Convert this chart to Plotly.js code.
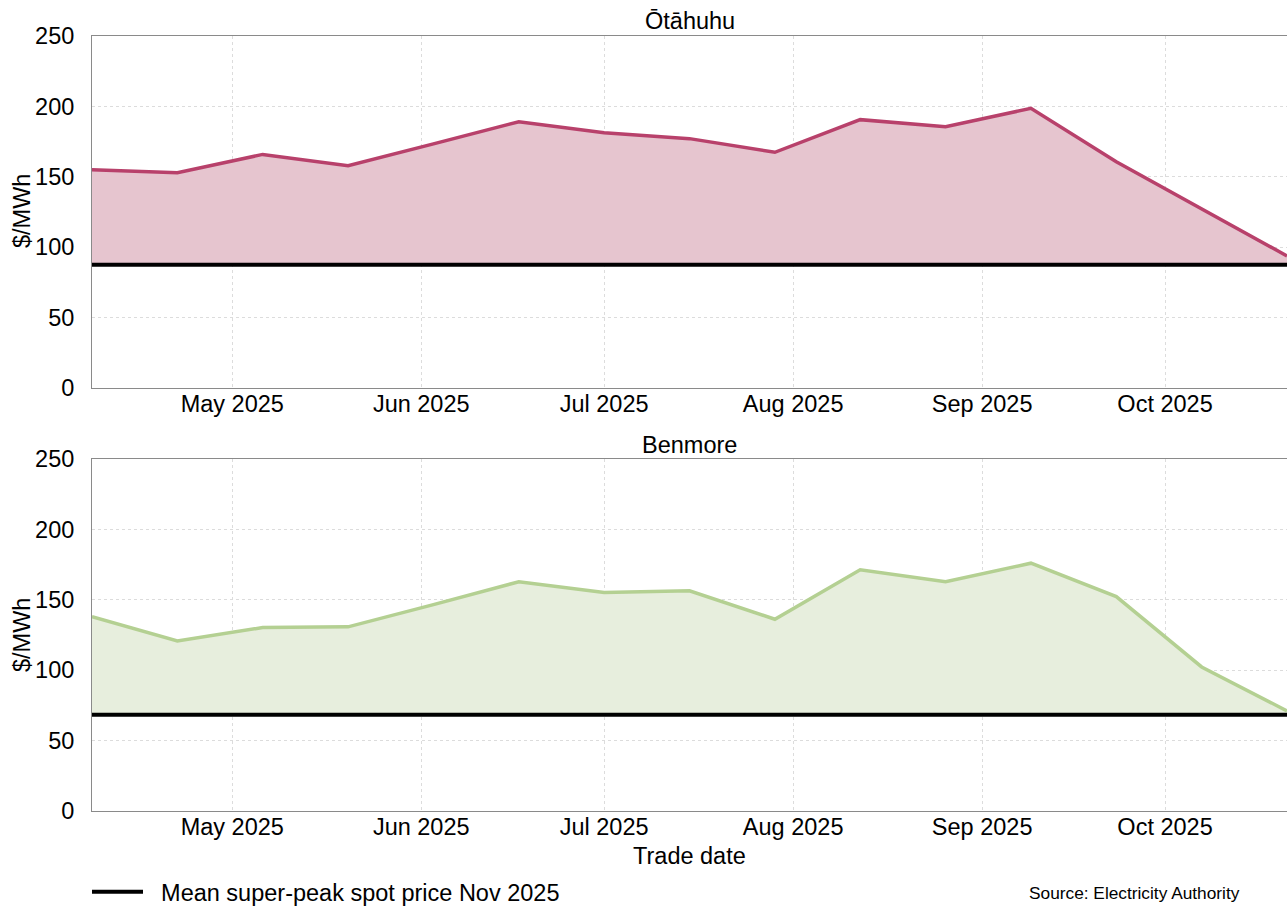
<!DOCTYPE html>
<html>
<head>
<meta charset="utf-8">
<script src="https://cdn.plot.ly/plotly-3.0.1.min.js"></script>
<style>
html,body{margin:0;padding:0;background:#fff}
#chart{width:1287px;height:906px}
</style>
</head>
<body>
<div id="chart"></div>
<script>
// ────── data ──────
const tradeDates=['2025-04-08','2025-04-22','2025-05-06','2025-05-20','2025-06-03','2025-06-17','2025-07-01','2025-07-15','2025-07-29','2025-08-12','2025-08-26','2025-09-09','2025-09-23','2025-10-07','2025-10-21'];
const otahuhuPrice=[155.0,152.9,165.9,157.9,173.4,189.1,181.3,177.1,167.4,190.6,185.6,198.6,160.7,127.4,93.8];
const benmorePrice=[138.1,120.8,130.3,130.8,146.6,162.8,155.2,156.4,136.2,171.3,162.8,176.0,152.3,102.3,71.1];
const otahuhuMeanNov=87.6;
const benmoreMeanNov=68.3;
const meanLabel='Mean super-peak spot price Nov 2025';

// ────── styles ──────
const FONT='"Liberation Sans", Arial, Helvetica, sans-serif';
const FS=23.5;
const OTA_LINE='#b8416b', OTA_FILL='#e6c5cf';
const BEN_LINE='#b4d092', BEN_FILL='#e7eedd';
const txt=(size)=>({family:FONT,size:size||FS,color:'#000'});

const ends=[tradeDates[0],tradeDates[tradeDates.length-1]];
function meanDs(v,xa,ya,show){
  return {type:'scatter',mode:'lines',x:ends,y:[v,v],xaxis:xa,yaxis:ya,
    name:'\u00a0\u00a0'+meanLabel,showlegend:show,line:{color:'#000',width:4},hoverinfo:'skip'};
}
function priceDs(name,vals,col,fillCol,xa,ya){
  return {type:'scatter',mode:'lines',x:tradeDates,y:vals,xaxis:xa,yaxis:ya,
    name,showlegend:false,fill:'tonexty',fillcolor:fillCol,line:{color:col,width:3.5}};
}

const data=[
  meanDs(otahuhuMeanNov,'x','y',true),
  priceDs('Ōtāhuhu',otahuhuPrice,OTA_LINE,OTA_FILL,'x','y'),
  meanDs(benmoreMeanNov,'x2','y2',false),
  priceDs('Benmore',benmorePrice,BEN_LINE,BEN_FILL,'x2','y2')
];

const xCommon={
  type:'date',range:ends,dtick:'M1',tick0:'2025-05-01',tickformat:'%b %Y',
  showgrid:true,gridcolor:'#dcdcdc',griddash:'dot',gridwidth:1,
  showline:true,linecolor:'#8a8a8a',linewidth:1,mirror:true,
  ticks:'',ticklabelstandoff:-5,tickfont:txt(),zeroline:false,automargin:false
};
const yCommon={
  range:[0,250],dtick:50,tick0:0,
  showgrid:true,gridcolor:'#dcdcdc',griddash:'dot',gridwidth:1,
  showline:true,linecolor:'#8a8a8a',linewidth:1,mirror:true,
  ticks:'',ticklabelstandoff:12,tickfont:txt(),zeroline:false,automargin:false
};

// pixel helpers (plot area: t=36, paper height 775)
const PH=775;
const py=(pix)=>(811-pix)/PH;
const px=(pix)=>(pix-92)/1195;

const layout={
  width:1287,height:906,
  margin:{l:92,r:0,t:36,b:95},
  paper_bgcolor:'#fff',plot_bgcolor:'#fff',
  font:txt(),
  showlegend:true,
  legend:{orientation:'h',x:-5/1195,xanchor:'left',yref:'container',y:1-870/906,yanchor:'top',
    font:txt(),itemwidth:51,bgcolor:'rgba(0,0,0,0)'},
  xaxis:{...xCommon,anchor:'y',domain:[0,1]},
  yaxis:{...yCommon,anchor:'x',domain:[py(388),1]},
  xaxis2:{...xCommon,anchor:'y2',domain:[0,1]},
  yaxis2:{...yCommon,anchor:'x2',domain:[0,py(459)]},
  annotations:[
    {text:'Ōtāhuhu',xref:'paper',yref:'paper',x:0.5,y:py(21),xanchor:'center',yanchor:'middle',showarrow:false,font:txt()},
    {text:'Benmore',xref:'paper',yref:'paper',x:0.5,y:py(445),xanchor:'center',yanchor:'middle',showarrow:false,font:txt()},
    {text:'$/MWh',xref:'paper',yref:'paper',x:px(22),y:py(211),xanchor:'center',yanchor:'middle',textangle:-90,showarrow:false,font:txt()},
    {text:'$/MWh',xref:'paper',yref:'paper',x:px(22),y:py(635),xanchor:'center',yanchor:'middle',textangle:-90,showarrow:false,font:txt()},
    {text:'Trade date',xref:'paper',yref:'paper',x:0.5,y:py(856),xanchor:'center',yanchor:'middle',showarrow:false,font:txt()},
    {text:'Source: Electricity Authority',xref:'paper',yref:'paper',x:px(1027),y:py(893),xanchor:'left',yanchor:'middle',showarrow:false,font:txt(17.3)}
  ]
};

Plotly.newPlot('chart',data,layout,{displayModeBar:false,staticPlot:true});
</script>
</body>
</html>
